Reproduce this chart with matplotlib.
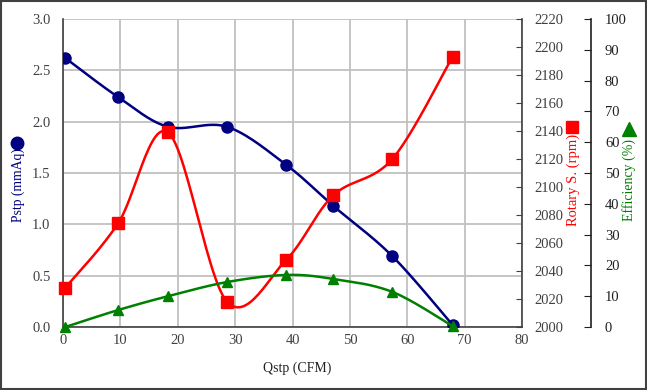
import numpy as np
import matplotlib
matplotlib.use("Agg")
import matplotlib.pyplot as plt
from matplotlib.patches import Rectangle
from matplotlib.lines import Line2D

# ---- data ----
qstp = [0.4, 9.6, 18.3, 28.6, 38.9, 47.1, 57.4, 67.9]
pstp = [2.62, 2.24, 1.95, 1.95, 1.58, 1.18, 0.69, 0.02]
rotary = [2028, 2074, 2139, 2018, 2048, 2094, 2120, 2193]
efficiency = [0.0, 5.5, 10.0, 14.6, 16.9, 15.6, 11.4, 0.3]

x_ticks = [0, 10, 20, 30, 40, 50, 60, 70, 80]
p_ticks = [0.0, 0.5, 1.0, 1.5, 2.0, 2.5, 3.0]
r_ticks = list(range(2000, 2221, 20))
e_ticks = list(range(0, 101, 10))

NAVY = "#000080"
RED = "#FF0000"
GREEN = "#008000"

plt.rcParams['font.family'] = ['Liberation Serif', 'DejaVu Serif']

W, H = 647, 390
fig = plt.figure(figsize=(W / 100, H / 100), dpi=100)

L, R, T, B = 63, 522, 19, 327
ax = fig.add_axes([L / W, 1 - B / H, (R - L) / W, (B - T) / H])


def smooth(xs, ys, n=30):
    """Excel-like smoothed line (cubic Bezier, Catmull-Rom style controls)."""
    P = np.column_stack([xs, ys]).astype(float)
    ext = np.vstack([P[0], P, P[-1]])
    out = []
    t = np.linspace(0, 1, n)[:, None]
    for i in range(len(P) - 1):
        p0, p1, p2, p3 = ext[i], ext[i + 1], ext[i + 2], ext[i + 3]
        c1 = p1 + (p2 - p0) / 6.0
        c2 = p2 - (p3 - p1) / 6.0
        seg = ((1 - t) ** 3) * p1 + 3 * ((1 - t) ** 2) * t * c1 + 3 * (1 - t) * t ** 2 * c2 + t ** 3 * p2
        out.append(seg if i == 0 else seg[1:])
    arr = np.vstack(out)
    return arr[:, 0], arr[:, 1]


fs = 10.5

# left axis
ax.set_xlim(0, 80)
ax.set_ylim(0, 3.0)
ax.set_xticks(x_ticks)
ax.set_yticks(p_ticks)
ax.set_yticklabels([f"{v:.1f}" for v in p_ticks])
ax.grid(True, color="#c0c0c0", linewidth=1.3, zorder=0)
ax.set_axisbelow(True)
ax.tick_params(axis='y', length=0, pad=9, labelsize=fs, colors="#404040")
ax.tick_params(axis='x', length=0, pad=5, labelsize=fs, colors="#404040")
for s in ['top', 'right']:
    ax.spines[s].set_visible(False)
for s in ['left', 'bottom']:
    ax.spines[s].set_color("#404040")
    ax.spines[s].set_linewidth(1.2)

ax2 = ax.twinx()
ax2.set_ylim(2000, 2220)
ax2.set_yticks(r_ticks)
ax2.tick_params(axis='y', direction='in', length=4, pad=9, labelsize=fs,
                colors="#404040")
for s in ['top', 'left', 'bottom']:
    ax2.spines[s].set_visible(False)
ax2.spines['right'].set_color("#404040")
ax2.spines['right'].set_linewidth(1.2)

ax3 = ax.twinx()
ax3.set_ylim(0, 100)
ax3.set_yticks(e_ticks)
ax3.spines['right'].set_position(('axes', (591 - L) / (R - L)))
ax3.tick_params(axis='y', direction='in', length=5, pad=10, labelsize=fs,
                colors="#202020")
for s in ['top', 'left', 'bottom']:
    ax3.spines[s].set_visible(False)
ax3.spines['right'].set_color("#202020")
ax3.spines['right'].set_linewidth(1.2)

# series
sx, sy = smooth(qstp, pstp)
ax.plot(sx, sy, color=NAVY, lw=1.8, zorder=3)
ax.plot(qstp, pstp, 'o', color=NAVY, ms=8, zorder=4, linestyle='none')

sx, sy = smooth(qstp, rotary)
ax2.plot(sx, sy, color=RED, lw=1.8, zorder=3, clip_on=False)
ax2.plot(qstp, rotary, 's', color=RED, ms=8, zorder=4, linestyle='none', clip_on=False)

sx, sy = smooth(qstp, efficiency)
ax3.plot(sx, sy, color=GREEN, lw=1.8, zorder=3, clip_on=False)
ax3.plot(qstp, efficiency, '^', color=GREEN, ms=7.5, zorder=4, linestyle='none', clip_on=False)


def fx(px):
    return px / W


def fy(py):
    return 1 - py / H


# axis labels
fig.text(fx(297), fy(368), "Qstp (CFM)", ha='center', va='center', fontsize=10, color="#202020")
fig.text(fx(18), fy(185), "Pstp (mmAq)", rotation=90, ha='center', va='center', fontsize=9.8, color=NAVY)
fig.text(fx(573), fy(180), "Rotary S. (rpm)", rotation=90, ha='center', va='center', fontsize=10.5, color=RED)
fig.text(fx(629), fy(180), "Efficiency (%)", rotation=90, ha='center', va='center', fontsize=10, color=GREEN)

# legend-like markers next to axis titles
fig.add_artist(Line2D([fx(17)], [fy(143)], marker='o', ms=9, color=NAVY, linestyle='none',
                      transform=fig.transFigure))
fig.add_artist(Line2D([fx(572)], [fy(127)], marker='s', ms=9, color=RED, linestyle='none',
                      transform=fig.transFigure))
fig.add_artist(Line2D([fx(629)], [fy(129)], marker='^', ms=9.5, color=GREEN, linestyle='none',
                      transform=fig.transFigure))

# outer frame
fig.add_artist(Rectangle((0.002, 0.003), 0.996, 0.994, transform=fig.transFigure,
                         fill=False, edgecolor="#404040", linewidth=1.5))

fig.savefig("out.png", dpi=100)
